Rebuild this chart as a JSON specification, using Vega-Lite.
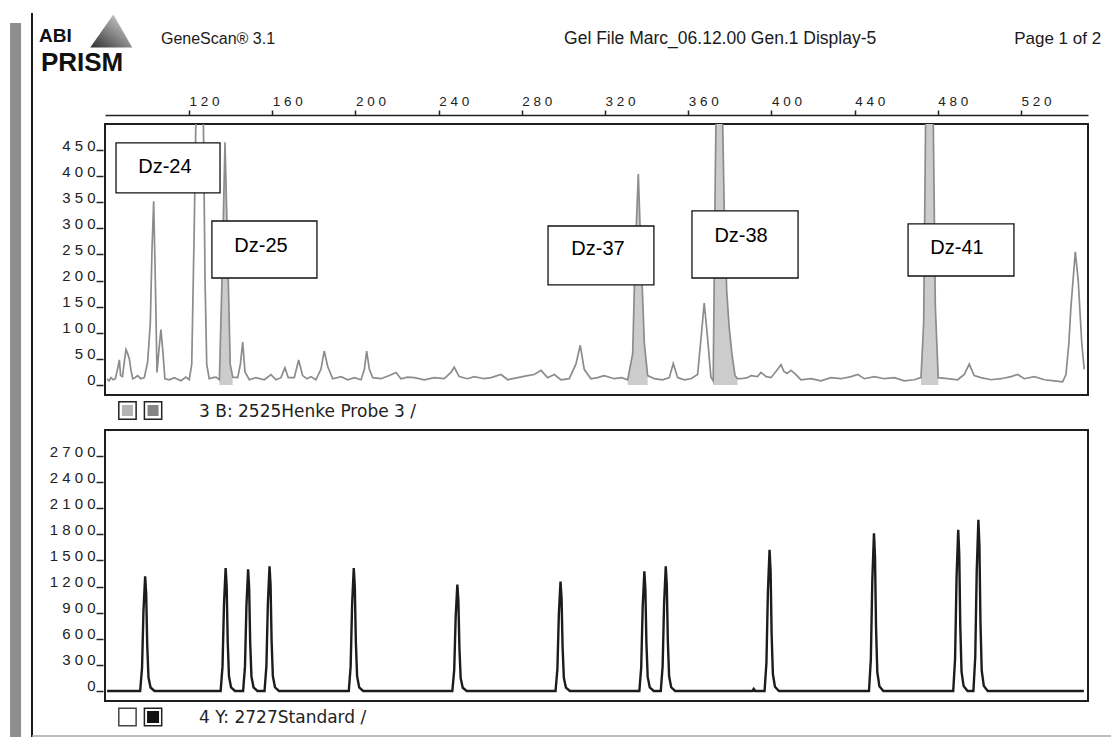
{
  "$schema": "https://vega.github.io/schema/vega-lite/v6.json",
  "background": "white",
  "padding": {"left": 9, "top": 10, "right": 0, "bottom": 0},
  "bounds": "flush",
  "spacing": 35,
  "config": {
    "view": {"stroke": "#1e1e1e", "strokeWidth": 2},
    "axis": {"grid": false, "labelFont": "Liberation Sans", "labelColor": "#222222", "tickColor": "#222222", "domainColor": "#222222", "labelOverlap": false, "labelSeparation": 0}
  },
  "datasets": {
    "probe": [
      {"bp":80.6,"rfu":12},{"bp":81.5,"rfu":8},{"bp":82.5,"rfu":14},{"bp":83.5,"rfu":10},{"bp":84.6,"rfu":12},{"bp":85.6,"rfu":30},{"bp":86.5,"rfu":48},{"bp":87.1,"rfu":18},{"bp":88.0,"rfu":16},{"bp":88.9,"rfu":45},{"bp":89.7,"rfu":68},{"bp":90.5,"rfu":60},{"bp":91.3,"rfu":50},{"bp":92.1,"rfu":28},{"bp":92.9,"rfu":12},{"bp":94.0,"rfu":14},{"bp":95.3,"rfu":18},{"bp":96.8,"rfu":12},{"bp":98.5,"rfu":14},{"bp":100.1,"rfu":44},{"bp":101.4,"rfu":120},{"bp":102.2,"rfu":260},{"bp":103.0,"rfu":352},{"bp":103.8,"rfu":200},{"bp":104.6,"rfu":24},{"bp":105.6,"rfu":70},{"bp":106.5,"rfu":106},{"bp":107.5,"rfu":60},{"bp":108.4,"rfu":12},{"bp":110.5,"rfu":10},{"bp":112.9,"rfu":14},{"bp":116.1,"rfu":8},{"bp":118.5,"rfu":15},{"bp":120.1,"rfu":10},{"bp":121.3,"rfu":40},{"bp":122.5,"rfu":300},{"bp":123.7,"rfu":620},{"bp":126.6,"rfu":620},{"bp":127.7,"rfu":200},{"bp":128.5,"rfu":40},{"bp":129.7,"rfu":12},{"bp":131.5,"rfu":14},{"bp":133.0,"rfu":15},
      {"bp":134.6,"rfu":10,"peak":"Dz-25"},{"bp":135.7,"rfu":180,"peak":"Dz-25"},{"bp":137.3,"rfu":465,"peak":"Dz-25"},{"bp":138.6,"rfu":250,"peak":"Dz-25"},{"bp":139.8,"rfu":40,"peak":"Dz-25"},{"bp":141.0,"rfu":15,"peak":"Dz-25"},
      {"bp":143.4,"rfu":14},{"bp":144.7,"rfu":40},{"bp":145.8,"rfu":82},{"bp":146.9,"rfu":25},{"bp":149.0,"rfu":10},{"bp":152.2,"rfu":14},{"bp":156.2,"rfu":10},{"bp":159.4,"rfu":20},{"bp":161.8,"rfu":10},{"bp":164.2,"rfu":14},{"bp":166.1,"rfu":33},{"bp":167.7,"rfu":14},{"bp":170.6,"rfu":14},{"bp":172.7,"rfu":48},{"bp":174.6,"rfu":18},{"bp":176.7,"rfu":12},{"bp":178.6,"rfu":16},{"bp":181.0,"rfu":10},{"bp":183.4,"rfu":30},{"bp":185.0,"rfu":65},{"bp":186.7,"rfu":35},{"bp":189.1,"rfu":12},{"bp":193.1,"rfu":16},{"bp":196.3,"rfu":10},{"bp":199.5,"rfu":14},{"bp":202.7,"rfu":10},{"bp":204.3,"rfu":30},{"bp":205.4,"rfu":65},{"bp":206.7,"rfu":30},{"bp":208.3,"rfu":14},{"bp":212.3,"rfu":12},{"bp":216.3,"rfu":18},{"bp":219.5,"rfu":24},{"bp":221.9,"rfu":12},{"bp":225.0,"rfu":15},{"bp":228.3,"rfu":14},{"bp":233.1,"rfu":10},{"bp":237.9,"rfu":14},{"bp":242.7,"rfu":12},{"bp":245.9,"rfu":24},{"bp":247.5,"rfu":34},{"bp":249.9,"rfu":16},{"bp":253.9,"rfu":12},{"bp":257.1,"rfu":16},{"bp":261.9,"rfu":12},{"bp":265.2,"rfu":14},{"bp":270.0,"rfu":20},{"bp":273.2,"rfu":10},{"bp":278.0,"rfu":14},{"bp":282.8,"rfu":18},{"bp":286.0,"rfu":20},{"bp":289.2,"rfu":28},{"bp":292.4,"rfu":14},{"bp":295.6,"rfu":20},{"bp":298.8,"rfu":10},{"bp":302.8,"rfu":12},{"bp":306.0,"rfu":40},{"bp":308.1,"rfu":76},{"bp":310.0,"rfu":30},{"bp":313.2,"rfu":12},{"bp":316.4,"rfu":14},{"bp":319.6,"rfu":18},{"bp":324.4,"rfu":12},{"bp":328.0,"rfu":14},
      {"bp":330.9,"rfu":10,"peak":"Dz-37"},{"bp":333.3,"rfu":60,"peak":"Dz-37"},{"bp":334.5,"rfu":250,"peak":"Dz-37"},{"bp":336.0,"rfu":404,"peak":"Dz-37"},{"bp":337.3,"rfu":250,"peak":"Dz-37"},{"bp":338.9,"rfu":80,"peak":"Dz-37"},{"bp":340.5,"rfu":18,"peak":"Dz-37"},
      {"bp":343.7,"rfu":12},{"bp":347.7,"rfu":10},{"bp":350.9,"rfu":14},{"bp":352.8,"rfu":41},{"bp":354.9,"rfu":14},{"bp":358.1,"rfu":10},{"bp":361.3,"rfu":12},{"bp":364.5,"rfu":20},{"bp":366.4,"rfu":100},{"bp":367.7,"rfu":157},{"bp":369.3,"rfu":90},{"bp":370.9,"rfu":15},
      {"bp":372.0,"rfu":8,"peak":"Dz-38"},{"bp":373.0,"rfu":400,"peak":"Dz-38"},{"bp":373.7,"rfu":620,"peak":"Dz-38"},{"bp":376.0,"rfu":620,"peak":"Dz-38"},{"bp":377.3,"rfu":340,"peak":"Dz-38"},{"bp":378.5,"rfu":180,"peak":"Dz-38"},{"bp":379.7,"rfu":110,"peak":"Dz-38"},{"bp":381.0,"rfu":60,"peak":"Dz-38"},{"bp":382.5,"rfu":18,"peak":"Dz-38"},{"bp":383.7,"rfu":12,"peak":"Dz-38"},
      {"bp":385.4,"rfu":12},{"bp":388.5,"rfu":14},{"bp":390.2,"rfu":18},{"bp":393.3,"rfu":16},{"bp":395.0,"rfu":24},{"bp":397.5,"rfu":16},{"bp":399.8,"rfu":14},{"bp":403.0,"rfu":30},{"bp":404.6,"rfu":39},{"bp":406.0,"rfu":26},{"bp":407.5,"rfu":22},{"bp":409.4,"rfu":28},{"bp":411.8,"rfu":20},{"bp":414.2,"rfu":10},{"bp":419.0,"rfu":12},{"bp":423.8,"rfu":8},{"bp":428.6,"rfu":14},{"bp":433.4,"rfu":12},{"bp":438.3,"rfu":16},{"bp":441.5,"rfu":20},{"bp":444.7,"rfu":12},{"bp":449.5,"rfu":16},{"bp":454.3,"rfu":12},{"bp":459.1,"rfu":14},{"bp":463.9,"rfu":8},{"bp":468.7,"rfu":10},
      {"bp":471.9,"rfu":14,"peak":"Dz-41"},{"bp":473.2,"rfu":120,"peak":"Dz-41"},{"bp":474.4,"rfu":620,"peak":"Dz-41"},{"bp":477.5,"rfu":620,"peak":"Dz-41"},{"bp":478.8,"rfu":150,"peak":"Dz-41"},{"bp":480.2,"rfu":14,"peak":"Dz-41"},
      {"bp":484.7,"rfu":12},{"bp":489.5,"rfu":10},{"bp":492.7,"rfu":20},{"bp":495.1,"rfu":40},{"bp":497.5,"rfu":18},{"bp":500.7,"rfu":14},{"bp":505.6,"rfu":10},{"bp":510.4,"rfu":12},{"bp":515.2,"rfu":16},{"bp":518.4,"rfu":20},{"bp":521.6,"rfu":12},{"bp":526.4,"rfu":16},{"bp":531.2,"rfu":10},{"bp":536.0,"rfu":8},{"bp":540.0,"rfu":6},{"bp":541.6,"rfu":20},{"bp":543.0,"rfu":80},{"bp":544.0,"rfu":150},{"bp":546.1,"rfu":255},{"bp":547.5,"rfu":200},{"bp":549.2,"rfu":80},{"bp":550.4,"rfu":30}
    ],
    "standard": [
      {"bp":80.6,"rfu":0},
      {"bp":96.5,"rfu":0},{"bp":97.4,"rfu":264},{"bp":98.1,"rfu":923},{"bp":98.9,"rfu":1319},{"bp":99.4,"rfu":1121},{"bp":99.9,"rfu":528},{"bp":100.5,"rfu":158},{"bp":101.5,"rfu":40},{"bp":103.4,"rfu":0},
      {"bp":135.2,"rfu":0},{"bp":136.1,"rfu":283},{"bp":136.8,"rfu":990},{"bp":137.6,"rfu":1414},{"bp":138.1,"rfu":1202},{"bp":138.6,"rfu":566},{"bp":139.2,"rfu":170},{"bp":140.2,"rfu":42},{"bp":142.1,"rfu":0},
      {"bp":146.0,"rfu":0},{"bp":146.9,"rfu":280},{"bp":147.6,"rfu":979},{"bp":148.4,"rfu":1399},{"bp":148.9,"rfu":1189},{"bp":149.4,"rfu":560},{"bp":150.0,"rfu":168},{"bp":151.0,"rfu":42},{"bp":152.9,"rfu":0},
      {"bp":156.3,"rfu":0},{"bp":157.2,"rfu":287},{"bp":157.9,"rfu":1003},{"bp":158.7,"rfu":1433},{"bp":159.2,"rfu":1218},{"bp":159.7,"rfu":573},{"bp":160.3,"rfu":172},{"bp":161.3,"rfu":43},{"bp":163.2,"rfu":0},
      {"bp":196.8,"rfu":0},{"bp":197.7,"rfu":283},{"bp":198.4,"rfu":990},{"bp":199.2,"rfu":1414},{"bp":199.7,"rfu":1202},{"bp":200.2,"rfu":566},{"bp":200.8,"rfu":170},{"bp":201.8,"rfu":42},{"bp":203.7,"rfu":0},
      {"bp":246.6,"rfu":0},{"bp":247.5,"rfu":245},{"bp":248.2,"rfu":857},{"bp":249.0,"rfu":1224},{"bp":249.5,"rfu":1040},{"bp":250.0,"rfu":490},{"bp":250.6,"rfu":147},{"bp":251.6,"rfu":37},{"bp":253.5,"rfu":0},
      {"bp":296.2,"rfu":0},{"bp":297.1,"rfu":252},{"bp":297.8,"rfu":881},{"bp":298.6,"rfu":1258},{"bp":299.1,"rfu":1069},{"bp":299.6,"rfu":503},{"bp":300.2,"rfu":151},{"bp":301.2,"rfu":38},{"bp":303.1,"rfu":0},
      {"bp":336.5,"rfu":0},{"bp":337.4,"rfu":275},{"bp":338.1,"rfu":963},{"bp":338.9,"rfu":1376},{"bp":339.4,"rfu":1170},{"bp":339.9,"rfu":550},{"bp":340.5,"rfu":165},{"bp":341.5,"rfu":41},{"bp":343.4,"rfu":0},
      {"bp":346.8,"rfu":0},{"bp":347.7,"rfu":287},{"bp":348.4,"rfu":1003},{"bp":349.2,"rfu":1433},{"bp":349.7,"rfu":1218},{"bp":350.2,"rfu":573},{"bp":350.8,"rfu":172},{"bp":351.8,"rfu":43},{"bp":353.7,"rfu":0},
      {"bp":390.8,"rfu":0},{"bp":391.5,"rfu":25},{"bp":392.2,"rfu":0},
      {"bp":396.7,"rfu":0},{"bp":397.6,"rfu":325},{"bp":398.3,"rfu":1137},{"bp":399.1,"rfu":1624},{"bp":399.6,"rfu":1380},{"bp":400.1,"rfu":650},{"bp":400.7,"rfu":195},{"bp":401.7,"rfu":49},{"bp":403.6,"rfu":0},
      {"bp":446.9,"rfu":0},{"bp":447.8,"rfu":363},{"bp":448.5,"rfu":1270},{"bp":449.3,"rfu":1814},{"bp":449.8,"rfu":1542},{"bp":450.3,"rfu":726},{"bp":450.9,"rfu":218},{"bp":451.9,"rfu":54},{"bp":453.8,"rfu":0},
      {"bp":487.4,"rfu":0},{"bp":488.3,"rfu":371},{"bp":489.0,"rfu":1297},{"bp":489.8,"rfu":1853},{"bp":490.3,"rfu":1575},{"bp":490.8,"rfu":741},{"bp":491.4,"rfu":222},{"bp":492.4,"rfu":56},{"bp":494.3,"rfu":0},
      {"bp":497.1,"rfu":0},{"bp":498.0,"rfu":393},{"bp":498.7,"rfu":1377},{"bp":499.5,"rfu":1967},{"bp":500.0,"rfu":1672},{"bp":500.5,"rfu":787},{"bp":501.1,"rfu":236},{"bp":502.1,"rfu":59},{"bp":504.0,"rfu":0},
      {"bp":550.2,"rfu":0}
    ],
    "tags": [
      {"name":"Dz-24","x1":84.9,"x2":134.9,"y1":463.7,"y2":367.9,"tx":108.4,"ty":417.7},
      {"name":"Dz-25","x1":131.0,"x2":181.5,"y1":314.2,"y2":205.0,"tx":154.6,"ty":266.3},
      {"name":"Dz-37","x1":292.6,"x2":343.5,"y1":304.6,"y2":191.6,"tx":316.6,"ty":260.6},
      {"name":"Dz-38","x1":361.8,"x2":412.8,"y1":333.4,"y2":205.0,"tx":385.4,"ty":285.5},
      {"name":"Dz-41","x1":465.7,"x2":516.6,"y1":308.5,"y2":208.8,"tx":489.2,"ty":262.5}
    ]
  },
  "vconcat": [
    {
      "width": 983,
      "height": 271,
      "layer": [
        {
          "data": {"name": "probe"},
          "transform": [{"filter": "isValid(datum.peak)"}],
          "mark": {"type": "area", "color": "#cccccc", "clip": true},
          "encoding": {
            "x": {"field": "bp", "type": "quantitative", "title": null,
              "scale": {"domain": [79.6, 552.2], "nice": false, "zero": false},
              "axis": {"orient": "top", "values": [120,160,200,240,280,320,360,400,440,480,520], "tickCount": 30, "offset": 9, "tickSize": 5, "tickWidth": 1.5, "domainWidth": 1.5, "labelAlign": "left", "labelBaseline": "alphabetic", "labelPadding": 5, "labelFontSize": 13.5, "labelFlush": false, "labelOverlap": false, "format": "d", "labelExpr": "replace(datum.label, regexp('([0-9])(?=[0-9])', 'g'), '$1 ')"}},
            "y": {"field": "rfu", "type": "quantitative", "title": null, "stack": null,
              "scale": {"domain": [-19.2, 500], "nice": false, "zero": false},
              "axis": {"values": [0,50,100,150,200,250,300,350,400,450], "tickCount": 20, "format": "d", "domain": false, "offset": 2, "tickSize": 7, "tickWidth": 1.5, "labelPadding": 1, "labelBaseline": "alphabetic", "labelFontSize": 15, "labelOverlap": false, "labelSeparation": 0, "labelExpr": "replace(datum.label, regexp('([0-9])(?=[0-9])', 'g'), '$1 ')"}},
            "detail": {"field": "peak"}
          }
        },
        {
          "data": {"name": "probe"},
          "mark": {"type": "line", "color": "#8c8c8c", "strokeWidth": 1.7, "clip": true},
          "encoding": {
            "x": {"field": "bp", "type": "quantitative", "title": null},
            "y": {"field": "rfu", "type": "quantitative", "title": null}
          }
        },
        {
          "data": {"name": "tags"},
          "mark": {"type": "rect", "fill": "white", "stroke": "#111111", "strokeWidth": 1.3},
          "encoding": {
            "x": {"field": "x1", "type": "quantitative", "title": null},
            "x2": {"field": "x2"},
            "y": {"field": "y1", "type": "quantitative", "title": null},
            "y2": {"field": "y2"}
          }
        },
        {
          "data": {"name": "tags"},
          "mark": {"type": "text", "font": "Liberation Sans", "fontSize": 20, "color": "#000000", "align": "center", "baseline": "middle"},
          "encoding": {
            "x": {"field": "tx", "type": "quantitative", "title": null},
            "y": {"field": "ty", "type": "quantitative", "title": null},
            "text": {"field": "name"}
          }
        },
        {
          "data": {"values": [{}]},
          "mark": {"type": "point", "shape": "M0.1,-0.79L1,0.79L-1,0.79Z", "size": 1764, "filled": true, "opacity": 1, "strokeWidth": 0,
            "fill": {"gradient": "linear", "x1": 0, "y1": 1, "x2": 1, "y2": 0, "stops": [{"offset": 0, "color": "#2e2e2e"}, {"offset": 0.5, "color": "#8a8a8a"}, {"offset": 1, "color": "#e6e6e6"}]}},
          "encoding": {"x": {"datum": 82.6, "type": "quantitative", "title": null}, "y": {"datum": 678.2, "type": "quantitative", "title": null}}
        },
        {
          "data": {"values": [{}]},
          "mark": {"type": "text", "text": "ABI", "font": "Liberation Sans", "fontWeight": "bold", "fontSize": 19, "color": "#111111", "align": "left", "baseline": "alphabetic"},
          "encoding": {"x": {"datum": 47.9, "type": "quantitative", "title": null}, "y": {"datum": 656.2, "type": "quantitative", "title": null}}
        },
        {
          "data": {"values": [{}]},
          "mark": {"type": "text", "text": "PRISM", "font": "Liberation Sans", "fontWeight": "bold", "fontSize": 26, "color": "#111111", "align": "left", "baseline": "alphabetic"},
          "encoding": {"x": {"datum": 48.8, "type": "quantitative", "title": null}, "y": {"datum": 601.6, "type": "quantitative", "title": null}}
        },
        {
          "data": {"values": [{}]},
          "mark": {"type": "text", "text": "GeneScan® 3.1", "font": "Liberation Sans", "fontSize": 16, "color": "#1a1a1a", "align": "left", "baseline": "middle"},
          "encoding": {"x": {"datum": 106.5, "type": "quantitative", "title": null}, "y": {"datum": 662.9, "type": "quantitative", "title": null}}
        },
        {
          "data": {"values": [{}]},
          "mark": {"type": "text", "text": "Gel File Marc_06.12.00 Gen.1 Display-5", "font": "Liberation Sans", "fontSize": 17.5, "color": "#1a1a1a", "align": "left", "baseline": "middle"},
          "encoding": {"x": {"datum": 300.3, "type": "quantitative", "title": null}, "y": {"datum": 662.9, "type": "quantitative", "title": null}}
        },
        {
          "data": {"values": [{}]},
          "mark": {"type": "text", "text": "Page 1 of 2", "font": "Liberation Sans", "fontSize": 17, "color": "#1a1a1a", "align": "right", "baseline": "middle"},
          "encoding": {"x": {"datum": 558.5, "type": "quantitative", "title": null}, "y": {"datum": 662.9, "type": "quantitative", "title": null}}
        },
        {
          "data": {"values": [{}]},
          "mark": {"type": "square", "size": 300, "filled": true, "fill": "white", "stroke": "#222222", "strokeWidth": 1.5, "opacity": 1},
          "encoding": {"x": {"datum": 90.4, "type": "quantitative", "title": null}, "y": {"datum": -48.9, "type": "quantitative", "title": null}}
        },
        {
          "data": {"values": [{}]},
          "mark": {"type": "square", "size": 121, "filled": true, "fill": "#b5b5b5", "opacity": 1},
          "encoding": {"x": {"datum": 90.4, "type": "quantitative", "title": null}, "y": {"datum": -48.9, "type": "quantitative", "title": null}}
        },
        {
          "data": {"values": [{}]},
          "mark": {"type": "square", "size": 300, "filled": true, "fill": "white", "stroke": "#222222", "strokeWidth": 1.5, "opacity": 1},
          "encoding": {"x": {"datum": 102.7, "type": "quantitative", "title": null}, "y": {"datum": -48.9, "type": "quantitative", "title": null}}
        },
        {
          "data": {"values": [{}]},
          "mark": {"type": "square", "size": 121, "filled": true, "fill": "#858585", "opacity": 1},
          "encoding": {"x": {"datum": 102.7, "type": "quantitative", "title": null}, "y": {"datum": -48.9, "type": "quantitative", "title": null}}
        },
        {
          "data": {"values": [{}]},
          "mark": {"type": "text", "text": "3 B: 2525Henke Probe 3 /", "font": "DejaVu Sans", "fontSize": 17, "color": "#222222", "align": "left", "baseline": "middle"},
          "encoding": {"x": {"datum": 124.8, "type": "quantitative", "title": null}, "y": {"datum": -51.7, "type": "quantitative", "title": null}}
        },
        {
          "data": {"values": [{}]},
          "mark": {"type": "rule", "color": "#8e8e8e", "strokeWidth": 11},
          "encoding": {"x": {"datum": 36.6, "type": "quantitative", "title": null}, "y": {"datum": 693.6, "type": "quantitative", "title": null}, "y2": {"datum": -674.4}}
        },
        {
          "data": {"values": [{}]},
          "mark": {"type": "rule", "color": "#1a1a1a", "strokeWidth": 2},
          "encoding": {"x": {"datum": 44.5, "type": "quantitative", "title": null}, "y": {"datum": 712.8, "type": "quantitative", "title": null}, "y2": {"datum": -674.4}}
        }
      ]
    },
    {
      "width": 983,
      "height": 271,
      "layer": [
        {
          "data": {"name": "standard"},
          "mark": {"type": "line", "color": "#1c1c1c", "strokeWidth": 2.4, "clip": true},
          "encoding": {
            "x": {"field": "bp", "type": "quantitative", "title": null,
              "scale": {"domain": [79.6, 552.2], "nice": false, "zero": false}, "axis": null},
            "y": {"field": "rfu", "type": "quantitative", "title": null,
              "scale": {"domain": [-115, 3000], "nice": false, "zero": false},
              "axis": {"values": [0,300,600,900,1200,1500,1800,2100,2400,2700], "tickCount": 20, "format": "d", "domain": false, "offset": 2, "tickSize": 7, "tickWidth": 1.5, "labelPadding": 1, "labelBaseline": "alphabetic", "labelFontSize": 15, "labelOverlap": false, "labelSeparation": 0, "labelExpr": "replace(datum.label, regexp('([0-9])(?=[0-9])', 'g'), '$1 ')"}}
          }
        },
        {
          "data": {"values": [{}]},
          "mark": {"type": "square", "size": 300, "filled": true, "fill": "white", "stroke": "#444444", "strokeWidth": 1.5, "opacity": 1},
          "encoding": {"x": {"datum": 90.4, "type": "quantitative", "title": null}, "y": {"datum": -298.7, "type": "quantitative", "title": null}}
        },
        {
          "data": {"values": [{}]},
          "mark": {"type": "square", "size": 300, "filled": true, "fill": "white", "stroke": "#222222", "strokeWidth": 1.5, "opacity": 1},
          "encoding": {"x": {"datum": 102.7, "type": "quantitative", "title": null}, "y": {"datum": -298.7, "type": "quantitative", "title": null}}
        },
        {
          "data": {"values": [{}]},
          "mark": {"type": "square", "size": 144, "filled": true, "fill": "#111111", "opacity": 1},
          "encoding": {"x": {"datum": 102.7, "type": "quantitative", "title": null}, "y": {"datum": -298.7, "type": "quantitative", "title": null}}
        },
        {
          "data": {"values": [{}]},
          "mark": {"type": "text", "text": "4 Y: 2727Standard /", "font": "DejaVu Sans", "fontSize": 17, "color": "#222222", "align": "left", "baseline": "middle"},
          "encoding": {"x": {"datum": 124.8, "type": "quantitative", "title": null}, "y": {"datum": -310.2, "type": "quantitative", "title": null}}
        },
        {
          "data": {"values": [{}]},
          "mark": {"type": "rule", "color": "#a8a8a8", "strokeWidth": 1.5},
          "encoding": {"x": {"datum": 44.5, "type": "quantitative", "title": null}, "x2": {"datum": 563.3}, "y": {"datum": -517, "type": "quantitative", "title": null}}
        }
      ]
    }
  ]
}
